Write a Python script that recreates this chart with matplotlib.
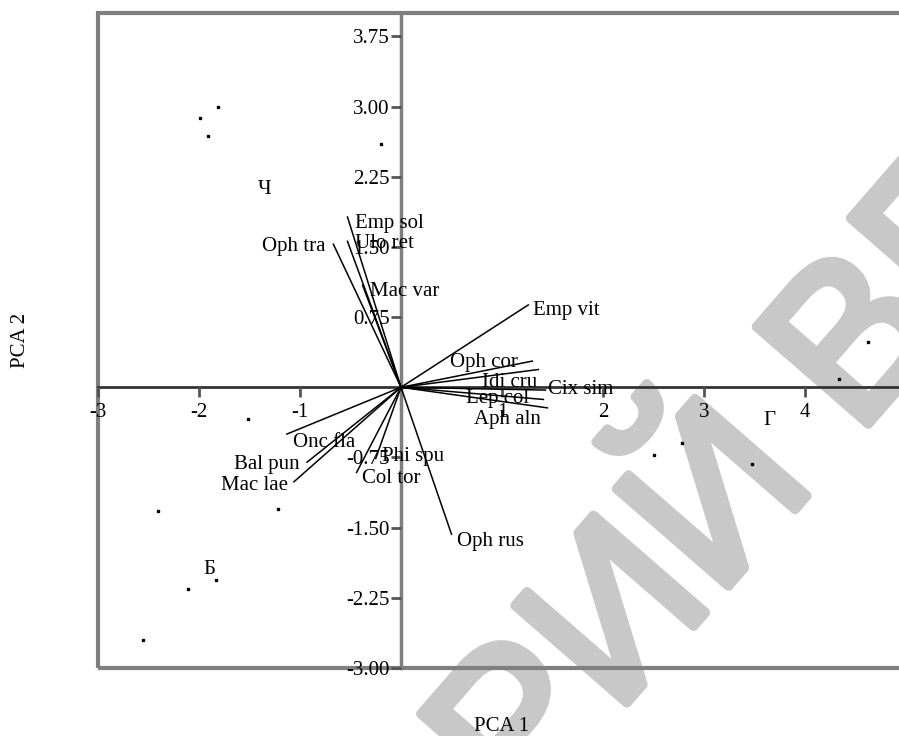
import matplotlib
matplotlib.use("Agg")
import matplotlib.pyplot as plt
import matplotlib.patheffects as pe
from matplotlib.patches import Rectangle

plt.rcParams['font.family'] = ['Liberation Serif', 'DejaVu Serif']

# sample scores (PCA 1, PCA 2)
score_x = [-1.99, -1.81, -1.91, -0.20, -1.51, -1.22, -2.41, -1.83, -2.11, -2.55,
           4.62, 4.34, 2.78, 2.50, 3.48]
score_y = [2.88, 3.00, 2.69, 2.60, -0.34, -1.30, -1.32, -2.06, -2.16, -2.70,
           0.48, 0.09, -0.60, -0.72, -0.82]

# group labels
groups = ['Ч', 'Б', 'Г']
group_x = [-1.35, -1.90, 3.65]
group_y = [2.11, -1.95, -0.36]

# species loadings
species = ['Emp sol', 'Ulo ret', 'Oph tra', 'Mac var', 'Emp vit', 'Oph cor',
           'Idi cru', 'Cix sim', 'Lep col', 'Aph aln', 'Onc fla', 'Bal pun',
           'Mac lae', 'Col tor', 'Phi spu', 'Oph rus']
load_x = [-0.53, -0.53, -0.67, -0.38, 1.26, 1.30, 1.36, 1.43, 1.41, 1.45,
          -1.13, -0.93, -1.06, -0.44, -0.25, 0.50]
load_y = [1.82, 1.56, 1.53, 1.09, 0.88, 0.28, 0.19, -0.03, -0.13, -0.22,
          -0.50, -0.80, -1.01, -0.91, -0.76, -1.57]

xticks = [-3, -2, -1, 1, 2, 3, 4]
yticks = [-3.00, -2.25, -1.50, -0.75, 0.75, 1.50, 2.25, 3.00, 3.75]

# label placement (layout only): offset from vector tip, alignment
label_off = {
    'Emp sol': (0.075, -0.07, 'left'), 'Ulo ret': (0.075, -0.02, 'left'),
    'Oph tra': (-0.08, -0.03, 'right'), 'Mac var': (0.07, -0.07, 'left'),
    'Emp vit': (0.05, -0.06, 'left'), 'Oph cor': (-0.81, -0.01, 'left'),
    'Idi cru': (-0.56, -0.14, 'left'), 'Cix sim': (0.03, 0.01, 'left'),
    'Lep col': (-0.77, 0.01, 'left'), 'Aph aln': (-0.73, -0.12, 'left'),
    'Onc fla': (0.06, -0.09, 'left'), 'Bal pun': (-0.07, -0.02, 'right'),
    'Mac lae': (-0.06, -0.04, 'right'), 'Col tor': (0.05, -0.06, 'left'),
    'Phi spu': (0.06, 0.02, 'left'), 'Oph rus': (0.05, -0.08, 'left'),
}

fig = plt.figure(figsize=(8.99, 7.36), dpi=100)
ax = fig.add_axes([98 / 899, 68 / 736, 808 / 899, 655 / 736])
ax.set_xlim(-3, 5)
ax.set_ylim(-3, 4)
ax.set_facecolor('none')

# watermark
wm_col = '#c8c8c8'
wm = dict(fontsize=155, color=wm_col, rotation=49, rotation_mode='anchor',
          va='baseline', family='Liberation Sans',
          transform=fig.transFigure, zorder=0,
          path_effects=[pe.withStroke(linewidth=7, foreground=wm_col)])
ax.text(0.910, 0.344, 'РЕПОЗИТОРИЙ', ha='right', **wm)
ax.text(0.953, 0.406, 'ВГУ', ha='left', **wm)

# axes through origin
for s in ['top', 'right']:
    ax.spines[s].set_visible(False)
ax.spines['left'].set_position(('data', 0))
ax.spines['bottom'].set_position(('data', 0))
ax.spines['left'].set_color('#7f7f7f')
ax.spines['left'].set_linewidth(2.5)
ax.spines['bottom'].set_color('#333333')
ax.spines['bottom'].set_linewidth(2)
ax.spines['left'].set_zorder(1)
ax.spines['bottom'].set_zorder(1)

frame = Rectangle((0, 0), 1, 1, transform=ax.transAxes, fill=False,
                  edgecolor='#7f7f7f', linewidth=3, clip_on=False, zorder=1)
ax.add_patch(frame)

ax.set_xticks(xticks)
ax.set_xticklabels([str(t) for t in xticks])
ax.set_yticks(yticks)
ax.set_yticklabels(['%.2f' % t for t in yticks])
ax.tick_params(axis='x', direction='out', length=7, width=2, color='#555555',
               labelsize=15, pad=4)
ax.tick_params(axis='y', direction='out', length=7, width=2, color='#555555',
               labelsize=15, pad=1)

# loadings
for name, lx, ly in zip(species, load_x, load_y):
    ax.plot([0, lx], [0, ly], color='black', linewidth=1.1, zorder=3)
    dx, dy, ha = label_off[name]
    ax.text(lx + dx, ly + dy, name, ha=ha, va='center', fontsize=15, zorder=4)

# scores
ax.plot(score_x, score_y, linestyle='none', marker='s', markersize=1.6,
        color='black', zorder=4)

for g, gx, gy in zip(groups, group_x, group_y):
    ax.text(gx, gy, g, ha='center', va='center', fontsize=15, zorder=4)

ax.text(0.5, -0.090, 'PCA 1', transform=ax.transAxes, ha='center',
        va='center', fontsize=15)
ax.text(-0.0965, 0.5, 'PCA 2', transform=ax.transAxes, ha='center',
        va='center', rotation=90, fontsize=15)

fig.savefig('out.png', dpi=100)
